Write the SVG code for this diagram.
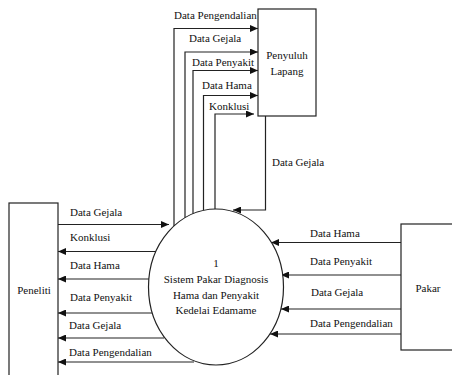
<svg xmlns="http://www.w3.org/2000/svg" width="452" height="375" viewBox="0 0 452 375" font-family="'Liberation Serif', 'DejaVu Serif', serif">
<defs>
<marker id="ah" markerUnits="userSpaceOnUse" markerWidth="9" markerHeight="7" refX="8" refY="3.5" orient="auto">
<path d="M0,0 L8,3.5 L0,7 Z" fill="#111"/>
</marker>
<style>
text{font-family:'Liberation Serif','DejaVu Serif',serif;font-size:11px;fill:#111}
.box{fill:#fff;stroke:#222;stroke-width:1.2}
.c{fill:none;stroke:#222;stroke-width:1.2}
.a{marker-end:url(#ah)}
.m{text-anchor:middle}
</style>
</defs>
<rect width="452" height="375" fill="#fff"/>

<g id="connectors">
<polyline class="c a" points="174,226 174,28.5 258,28.5"/>
<polyline class="c a" points="185,217.7 185,52 258,52"/>
<polyline class="c a" points="193,213.7 193,70.5 258,70.5"/>
<polyline class="c a" points="203.5,210.3 203.5,95.5 258,95.5"/>
<polyline class="c a" points="215,209 215,114 254,114"/>
<polyline class="c a" points="265.5,116 265.5,210 233,210"/>
<line class="c a" x1="58" y1="224.5" x2="169" y2="224.5"/>
<line class="c a" x1="157" y1="251.5" x2="58" y2="251.5"/>
<line class="c a" x1="149" y1="279" x2="58" y2="279"/>
<line class="c a" x1="152" y1="313" x2="58" y2="313"/>
<line class="c a" x1="164" y1="338" x2="58" y2="338"/>
<line class="c a" x1="194" y1="362" x2="58" y2="362"/>
<line class="c a" x1="401" y1="242.5" x2="271" y2="242.5"/>
<line class="c a" x1="401" y1="275" x2="281" y2="275"/>
<line class="c a" x1="401" y1="309" x2="281" y2="309"/>
<line class="c a" x1="401" y1="334" x2="270" y2="334"/>
</g>

<g id="labels">
<text x="174" y="19">Data Pengendalian</text>
<text x="189" y="42">Data Gejala</text>
<text x="192" y="66">Data Penyakit</text>
<text x="202" y="89">Data Hama</text>
<text x="209" y="110">Konklusi</text>
<text x="272" y="166">Data Gejala</text>
<text x="70" y="216">Data Gejala</text>
<text x="70" y="241">Konklusi</text>
<text x="70" y="269">Data Hama</text>
<text x="70" y="301">Data Penyakit</text>
<text x="69" y="329">Data Gejala</text>
<text x="69" y="356">Data Pengendalian</text>
<text x="310" y="237">Data Hama</text>
<text x="310" y="265">Data Penyakit</text>
<text x="311" y="296">Data Gejala</text>
<text x="310" y="327">Data Pengendalian</text>
</g>

<g id="penyuluh">
<rect class="box" x="258" y="9" width="58" height="107"/>
<text class="m" x="287" y="59">Penyuluh</text>
<text class="m" x="287" y="75">Lapang</text>
</g>

<g id="peneliti">
<rect class="box" x="9" y="203" width="49" height="180"/>
<text class="m" x="34" y="294">Peneliti</text>
</g>

<g id="pakar">
<rect class="box" x="401" y="224" width="60" height="126"/>
<text class="m" x="428" y="292">Pakar</text>
</g>

<g id="proses">
<ellipse class="box" cx="216" cy="287" rx="67.5" ry="78"/>
<text class="m" x="216" y="267">1</text>
<text class="m" x="216" y="283">Sistem Pakar Diagnosis</text>
<text class="m" x="216" y="299">Hama dan Penyakit</text>
<text class="m" x="216" y="314">Kedelai Edamame</text>
</g>
</svg>
